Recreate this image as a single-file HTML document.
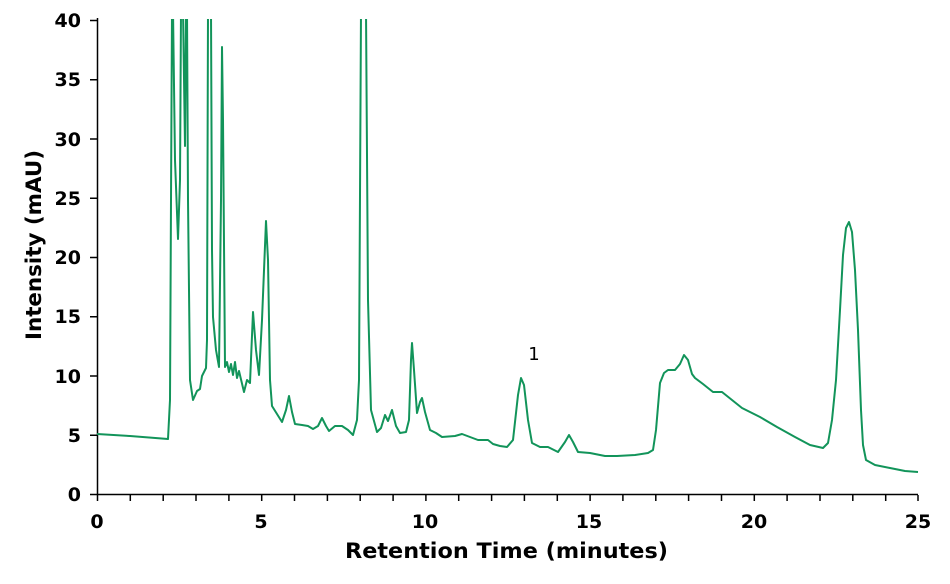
<!DOCTYPE html>
<html><head><meta charset="utf-8"><style>
html,body{margin:0;padding:0;background:#fff;}
svg{display:block;}
text{font-family:"DejaVu Sans","Liberation Sans",sans-serif;font-weight:bold;fill:#000;}
</style></head><body>
<svg width="950" height="584" viewBox="0 0 950 584" xmlns="http://www.w3.org/2000/svg">
<g stroke="#000" stroke-width="1.5" fill="none">
<line x1="97.5" y1="18" x2="97.5" y2="495"/>
<line x1="97" y1="494.5" x2="918" y2="494.5"/>
<path d="M90 494.5H97M90 435.25H97M90 376H97M90 316.75H97M90 257.5H97M90 198.25H97M90 139H97M90 79.75H97M90 20.5H97"/>
<path d="M97.5 495V501M130.3 495V501M163.2 495V501M196 495V501M228.9 495V501M261.7 495V501M294.5 495V501M327.4 495V501M360.2 495V501M393.1 495V501M425.9 495V501M458.7 495V501M491.6 495V501M524.4 495V501M557.3 495V501M590.1 495V501M622.9 495V501M655.8 495V501M688.6 495V501M721.5 495V501M754.3 495V501M787.1 495V501M820 495V501M852.8 495V501M885.7 495V501M918 495V501"/>
</g>
<g font-size="19" text-anchor="end">
<text x="81" y="501">0</text><text x="81" y="442">5</text><text x="81" y="383">10</text><text x="81" y="323">15</text><text x="81" y="264">20</text><text x="81" y="205">25</text><text x="81" y="146">30</text><text x="81" y="86">35</text><text x="81" y="27">40</text>
</g>
<g font-size="19" text-anchor="middle">
<text x="97" y="528">0</text><text x="261" y="528">5</text><text x="425" y="528">10</text><text x="589" y="528">15</text><text x="754" y="528">20</text><text x="918" y="528">25</text>
</g>
<text x="345" y="558" font-size="21" textLength="323" lengthAdjust="spacingAndGlyphs">Retention Time (minutes)</text>
<text transform="translate(41,340) rotate(-90)" font-size="21" textLength="190" lengthAdjust="spacingAndGlyphs">Intensity (mAU)</text>
<text x="534" y="360" font-size="18" style="font-weight:normal" text-anchor="middle">1</text>
<svg x="97" y="19" width="825" height="476" viewBox="97 19 825 476" overflow="hidden">
<path fill="none" stroke="#12945a" stroke-width="2" stroke-linejoin="round" d="M97 434 L130 436 L168 439 L170 400 L171 200 L172 10 L173 10 L175 160 L178 239 L180 180 L181 10 L183 10 L185 146 L186 10 L187 10 L188 200 L190 380 L193 400 L197 391 L200 389 L202 376 L206 368 L207 340 L208 10 L211 10 L212 250 L213 317 L216 350 L219 367 L221 200 L222 47 L223 120 L225 367 L227 362 L229 372 L231 364 L233 375 L235 362 L237 378 L239 371 L244 392 L247 380 L250 383 L253 312 L256 350 L259 375 L262 320 L266 221 L268 260 L270 380 L272 406 L282 422 L286 410 L289 396 L292 412 L295 424 L302 425 L308 426 L313 429 L318 426 L322 418 L326 426 L329 431 L335 426 L342 426 L348 430 L353 435 L357 420 L359 380 L361 10 L366 10 L368 300 L371 410 L377 432 L381 428 L385 415 L388 421 L392 410 L396 426 L400 433 L406 432 L409 420 L411 360 L412 343 L414 370 L417 413 L420 402 L422 398 L425 412 L430 430 L436 433 L442 437 L455 436 L462 434 L470 437 L478 440 L488 440 L493 444 L500 446 L507 447 L513 440 L518 395 L521 378 L524 385 L528 420 L532 443 L540 447 L548 447 L558 452 L565 442 L569 435 L573 442 L578 452 L590 453 L605 456 L617 456 L635 455 L648 453 L653 450 L656 430 L660 383 L664 373 L668 370 L675 370 L680 364 L684 355 L688 360 L692 374 L695 378 L703 384 L713 392 L722 392 L742 408 L760 417 L777 427 L795 437 L810 445 L823 448 L828 443 L832 420 L836 380 L840 310 L843 255 L846 228 L849 222 L852 232 L855 270 L858 330 L861 410 L863 445 L866 460 L875 465 L890 468 L905 471 L918 472"/>
</svg>
</svg>
</body></html>
